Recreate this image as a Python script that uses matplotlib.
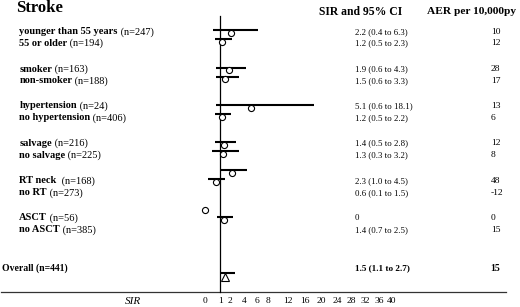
import numpy as np
import matplotlib
matplotlib.use("Agg")
import matplotlib.pyplot as plt

plt.rcParams["font.family"] = ["Liberation Serif", "DejaVu Serif"]

# subgroup data
groups = ["younger than 55 years", "55 or older", "smoker", "non-smoker",
          "hypertension", "no hypertension", "salvage", "no salvage",
          "RT neck ", "no RT", "ASCT", "no ASCT"]
n_pat = [247, 194, 163, 188, 24, 406, 216, 225, 168, 273, 56, 385]
sir = [2.2, 1.2, 1.9, 1.5, 5.1, 1.2, 1.4, 1.3, 2.3, 0.6, 0.0, 1.4]
ci_lo = [0.4, 0.5, 0.6, 0.6, 0.6, 0.5, 0.5, 0.3, 1.0, 0.1, np.nan, 0.7]
ci_hi = [6.3, 2.3, 4.3, 3.3, 18.1, 2.2, 2.8, 3.2, 4.5, 1.5, np.nan, 2.5]
aer = [10, 12, 28, 17, 13, 6, 12, 8, 48, -12, 0, 15]

overall_n = 441
overall_sir, overall_lo, overall_hi = 1.5, 1.1, 2.7
overall_aer = 15

tick_vals = [0, 1, 2, 4, 6, 8, 12, 16, 20, 24, 28, 32, 36, 40]

# row positions (pixels from top); the bars sit a little off the text rows
text_y = [31.7, 43.3, 69, 80.7, 106, 118, 143.3, 155.3, 180.7, 192.7, 217.7, 230]
bar_y = [30.3, 39.3, 67.5, 76.7, 104.8, 114, 142.2, 151.2, 170, 179.3, 207.3, 217.3]
overall_text_y = 268.3
overall_bar_y = 272.7

W, H = 520, 307
fig = plt.figure(figsize=(W / 100, H / 100), dpi=100)

# background axes in pixel units for all the text
bg = fig.add_axes([0, 0, 1, 1])
bg.set_xlim(0, W)
bg.set_ylim(H, 0)
bg.axis("off")

# forest plot axes, power-like scale as in the original
axis_y = 291.7
x0, x1 = 205, 391.7
ax = fig.add_axes([x0 / W, (H - axis_y) / H, (x1 - x0) / W, axis_y / H])
ax.patch.set_alpha(0)
p = 0.678
ax.set_xscale("function", functions=(lambda v: np.sign(v) * np.abs(v) ** p,
                                     lambda u: np.sign(u) * np.abs(u) ** (1 / p)))
ax.set_xlim(0, 40)
ax.set_ylim(axis_y, 0)
for s in ax.spines.values():
    s.set_visible(False)
ax.set_yticks([])
ax.set_xticks(tick_vals)
ax.set_xticklabels([str(t) for t in tick_vals])
ax.tick_params(axis="x", length=0, pad=4, labelsize=6.8)

ax.plot([1, 1], [16, axis_y], color="black", lw=0.9, clip_on=False)

for i in range(len(groups)):
    if not np.isnan(ci_lo[i]):
        ax.plot([ci_lo[i], ci_hi[i]], [bar_y[i], bar_y[i]], color="black",
                lw=1.5, clip_on=False, solid_capstyle="butt")
    ax.plot(sir[i], bar_y[i] + 2.7, marker="o", ms=4.4, mfc="white",
            mec="black", mew=0.8, clip_on=False, zorder=3)

ax.plot([overall_lo, overall_hi], [overall_bar_y, overall_bar_y], color="black",
        lw=1.5, clip_on=False, solid_capstyle="butt")
ax.plot(overall_sir, overall_bar_y + 4, marker="^", ms=6, mfc="white",
        mec="black", mew=0.8, clip_on=False, zorder=3)

# horizontal axis line across the whole figure
bg.plot([1, 506], [axis_y, axis_y], color="#333333", lw=0.9)
bg.text(133, 302, "SIR", fontsize=8, style="italic", ha="center", va="center")

# title and headers
bg.text(16, 8, "Stroke", fontsize=12, fontweight="bold", va="center")
bg.text(318.7, 12, "SIR and 95% CI", fontsize=8.4, fontweight="bold", va="center")
bg.text(427, 12, "AER per 10,000py", fontsize=8.2, fontweight="bold", va="center")

for i, g in enumerate(groups):
    t = bg.text(19.3, text_y[i], g, fontsize=7.5, fontweight="bold", va="center")
    bg.annotate(f" (n={n_pat[i]})", xy=(1, 0.5), xycoords=t, fontsize=7.5,
                va="center")
    if np.isnan(ci_lo[i]):
        ci_txt = f"{sir[i]:g}"
    else:
        ci_txt = f"{sir[i]:.1f} ({ci_lo[i]:.1f} to {ci_hi[i]:.1f})"
    bg.text(355, text_y[i], ci_txt, fontsize=6.3, va="center")
    bg.text(490.7, text_y[i], str(aer[i]), fontsize=6.8, va="center")

bg.text(2, overall_text_y, f"Overall (n={overall_n})", fontsize=7,
        fontweight="bold", va="center")
bg.text(355, overall_text_y,
        f"{overall_sir:.1f} ({overall_lo:.1f} to {overall_hi:.1f})",
        fontsize=6.6, fontweight="bold", va="center")
bg.text(490.7, overall_text_y, str(overall_aer), fontsize=7,
        fontweight="bold", va="center")

fig.savefig("out.png", dpi=100)
